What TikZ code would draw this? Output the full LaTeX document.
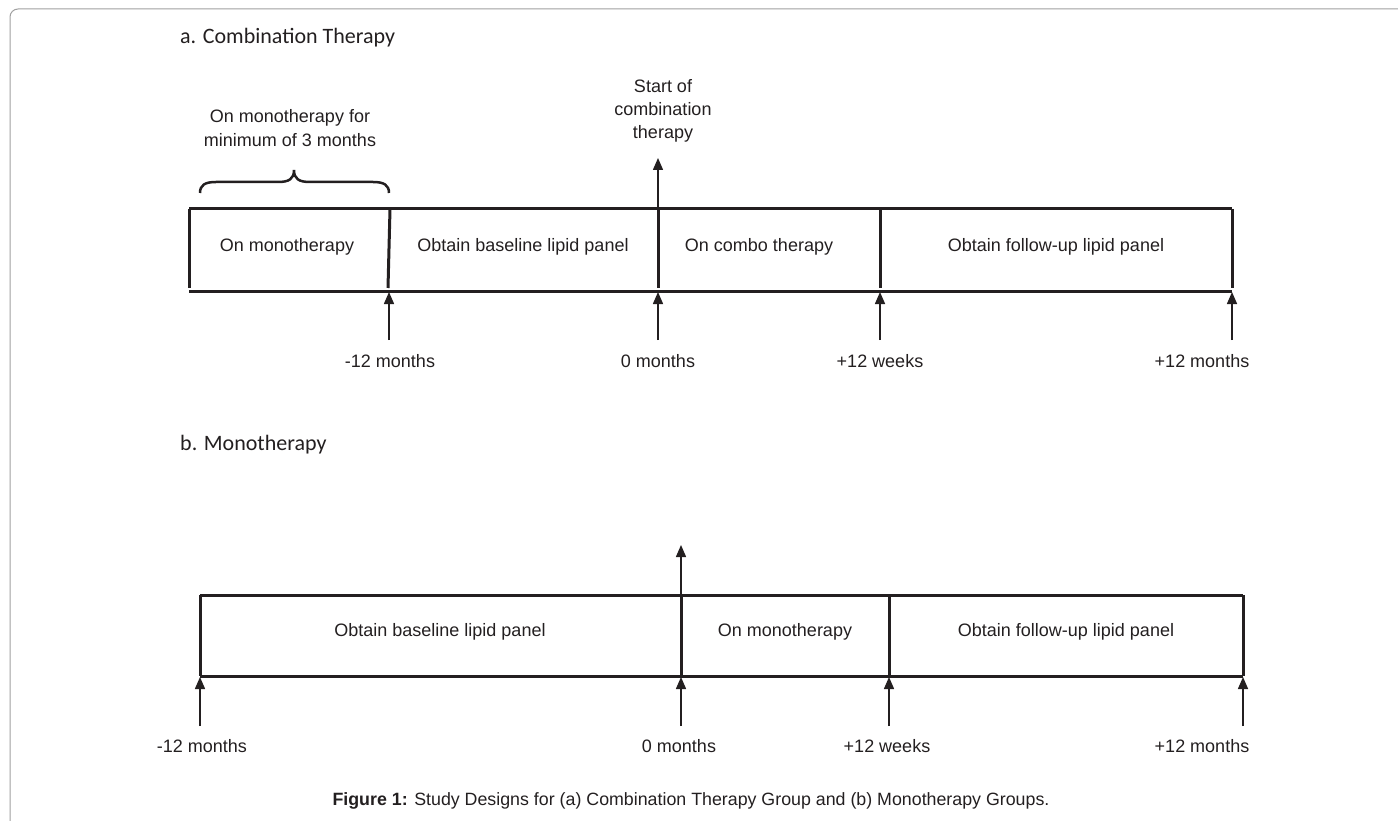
\documentclass[tikz,border=0pt]{standalone}
\usepackage{fontspec}
\setmainfont{Liberation Sans}
\newfontfamily\titlefont{Carlito}
\usetikzlibrary{arrows.meta}
\definecolor{ink}{HTML}{231F20}
\definecolor{framegray}{HTML}{A0A0A0}
\begin{document}
\begin{tikzpicture}[x=1pt,y=-1pt,
  bar/.style={line width=3pt, draw=ink},
  tick/.style={line width=1.5pt, draw=ink, -{Triangle[length=12pt,width=10pt]}},
  lbl/.style={font=\fontsize{18}{22}\selectfont, text=ink, anchor=base, inner sep=0pt},
  ttl/.style={font=\titlefont\fontsize{22}{26}\selectfont, text=ink, anchor=base west, inner sep=0pt},
  captionstyle/.style={font=\fontsize{17.8}{20}\selectfont, text=ink, anchor=base, inner sep=0pt}
  ]
\useasboundingbox (0,0) rectangle (1398,821);
\draw[framegray, line width=1pt, rounded corners=8pt] (10,830) -- (10,9) -- (1410,9);

% ---------- panel a ----------
\node[ttl] (titleA) at (180,44) {a. Combination Therapy};

\draw[bar] (189,209) -- (1232,209);
\draw[bar] (189,291) -- (1232,291);
\draw[bar] (189,209) -- (189,288);
\draw[bar] (390,209) -- (388,288);
\draw[bar] (658,209) -- (658,288);
\draw[bar] (880,209) -- (880,288);
\draw[bar] (1232,209) -- (1232,288);

\node[lbl] (a1) at (287,252) {On monotherapy};
\node[lbl] (a2) at (523,252) {Obtain baseline lipid panel};
\node[lbl] (a3) at (759,252) {On combo therapy};
\node[lbl] (a4) at (1056,252) {Obtain follow-up lipid panel};

% brace
\draw[ink, line width=2.5pt] (200,193) .. controls (200,185) and (205,182) .. (216,182)
  -- (278,182) .. controls (289,182) and (294,179) .. (294,170)
  .. controls (294,179) and (299,182) .. (310,182)
  -- (373,182) .. controls (384,182) and (389,185) .. (389,193);
\node[lbl] (br1) at (290,123) {On monotherapy for};
\node[lbl] (br2) at (290,147) {minimum of 3 months};

% start of combination
\coordinate (aStartTop) at (658,209);
\coordinate (aStartTip) at (658,158);
\draw[tick] (aStartTop) -- (aStartTip);
\node[lbl] (st1) at (663,93) {Start of};
\node[lbl] (st2) at (663,116) {combination};
\node[lbl] (st3) at (663,139) {therapy};

% ticks below a
\foreach \x/\n in {389/1,658/2,880/3,1232/4}{
  \coordinate (aB\n) at (\x,340);
  \coordinate (aT\n) at (\x,292);
  \draw[tick] (aB\n) -- (aT\n);
}
\node[lbl] (al1) at (390,367) {-12 months};
\node[lbl] (al2) at (658,367) {0 months};
\node[lbl] (al3) at (880,367) {+12 weeks};
\node[lbl] (al4) at (1202,367) {+12 months};

% ---------- panel b ----------
\node[ttl] (titleB) at (180,450) {b. Monotherapy};

\draw[bar] (200,595) -- (1243,595);
\draw[bar] (200,676) -- (1243,676);
\foreach \x in {200,681,889,1243}{
  \draw[bar] (\x,595) -- (\x,676);
}
\node[lbl] (b1) at (440,636) {Obtain baseline lipid panel};
\node[lbl] (b2) at (785,636) {On monotherapy};
\node[lbl] (b3) at (1066,636) {Obtain follow-up lipid panel};

\coordinate (bStartTop) at (681,595);
\coordinate (bStartTip) at (681,545);
\draw[tick] (bStartTop) -- (bStartTip);

\foreach \x/\n in {200/1,681/2,889/3,1243/4}{
  \coordinate (bB\n) at (\x,726);
  \coordinate (bT\n) at (\x,677);
  \draw[tick] (bB\n) -- (bT\n);
}
\node[lbl] (bl1) at (202,752) {-12 months};
\node[lbl] (bl2) at (679,752) {0 months};
\node[lbl] (bl3) at (887,752) {+12 weeks};
\node[lbl] (bl4) at (1202,752) {+12 months};

% caption
\node[captionstyle] (caption) at (691,805) {\textbf{Figure 1:} Study Designs for (a) Combination Therapy Group and (b) Monotherapy Groups.};
\end{tikzpicture}
\end{document}
